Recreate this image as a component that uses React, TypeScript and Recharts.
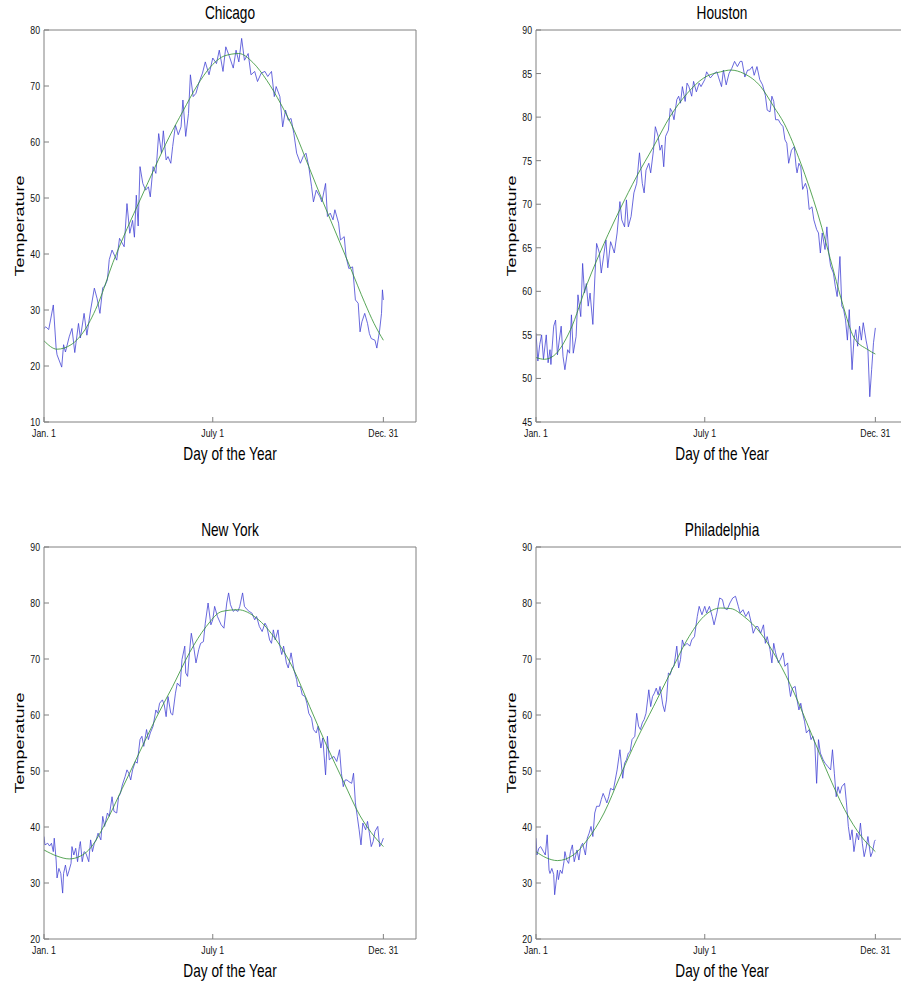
import React from 'react';
import { LineChart, Line, XAxis, YAxis } from 'recharts';

// x axis: day of year
const tickDays = [1, 182, 365];
const tickNames = ['Jan. 1', 'July 1', 'Dec. 31'];
const dayDomain = [1, 400];

// [day, temperature]
const chicagoDaily: [number, number][] = [
  [1, 26.7], [3, 27], [6, 26.5], [8, 28.2], [11, 30.9], [14, 23.2], [15, 22], [20, 19.8], [22, 23.8], [24, 22.5],
  [28, 25.2], [31, 26.7], [34, 22.4], [38, 27.6], [40, 25], [44, 29.4], [47, 25.5], [51, 30], [55, 33.9], [58, 32],
  [61, 29.4], [64, 34], [66, 34.2], [69, 35.4], [71, 39], [74, 40.7], [79, 38.9], [82, 42.8], [87, 41.3], [90, 49],
  [93, 43.7], [96, 46], [98, 43], [100, 50.5], [102, 45], [104, 55.6], [107, 52.6], [110, 51.4], [113, 52], [115, 50.2],
  [118, 55.6], [121, 54.4], [124, 61.5], [127, 58], [129, 62], [132, 56.8], [134, 57.4], [137, 56.2], [139, 59.2], [142, 63],
  [145, 61.3], [148, 62.7], [150, 67.5], [153, 61], [156, 65.1], [158, 72], [161, 68.1], [164, 68.7], [167, 70.5], [171, 72.3],
  [174, 74.3], [178, 72], [182, 75], [186, 74], [189, 76.4], [193, 72.6], [196, 77], [200, 75.2], [204, 73.2], [207, 76.4],
  [210, 74.3], [213, 78.5], [216, 74.6], [220, 75.8], [223, 72], [227, 72.6], [230, 70.8], [234, 72.3], [238, 72.6], [241, 71.7],
  [245, 72.6], [248, 68.1], [250, 69.9], [254, 68.1], [257, 62.7], [260, 65.7], [263, 63.9], [266, 64.2], [269, 61.5], [272, 58],
  [276, 56.2], [279, 57.4], [282, 58], [285, 55.6], [288, 52], [290, 49.3], [293, 51.4], [297, 50.2], [299, 49.3], [303, 52.6],
  [305, 46.7], [308, 47.3], [311, 46.1], [313, 47.9], [317, 45.5], [319, 42.5], [323, 43.1], [325, 39.5], [328, 37.4], [332, 37.7],
  [335, 31.8], [338, 31.2], [340, 26.1], [342, 27.9], [345, 29.4], [348, 27.6], [350, 25.8], [352, 24.9], [356, 24.6], [358, 23.2],
  [361, 26.4], [363, 29.4], [364, 33.6], [365, 31.8],
];
const chicagoFit: [number, number][] = [
  [1, 24.5], [15, 23], [30, 23.8], [45, 26.5], [60, 31.5], [75, 38.5], [90, 44.5], [105, 50], [120, 55.5], [135, 60.8],
  [150, 65.5], [165, 70], [180, 73.5], [195, 75.4], [210, 75.8], [225, 74.2], [240, 71], [255, 66.8], [270, 61.8], [285, 55.6],
  [300, 49.4], [315, 43.4], [330, 37.4], [345, 31.3], [355, 27.6], [365, 24.6],
];

const houstonDaily: [number, number][] = [
  [1, 55.2], [3, 52], [5, 53.9], [7, 55], [9, 52.2], [12, 55], [14, 51.8], [16, 53.3], [17, 51.6], [20, 56],
  [22, 56.7], [24, 52.7], [26, 54.4], [28, 56], [30, 52.5], [32, 51], [35, 53.3], [37, 52.9], [39, 57.3], [41, 52.9],
  [44, 54.8], [46, 59.6], [49, 57.1], [51, 63.2], [53, 59.8], [55, 60.9], [57, 58.3], [59, 59.8], [62, 56.2], [64, 61.3],
  [66, 65.5], [69, 64.4], [71, 62.1], [74, 64.4], [76, 65.9], [78, 62.7], [81, 65.7], [83, 65.1], [85, 64.4], [88, 66.7],
  [91, 70.3], [93, 68.2], [96, 67.4], [98, 70.5], [100, 67.4], [103, 68.6], [106, 71.3], [109, 72.4], [112, 75.9], [115, 72.4],
  [117, 71.3], [119, 73.9], [122, 74.7], [124, 73.6], [127, 76.2], [129, 78.9], [132, 77.8], [134, 76.2], [136, 76.8], [138, 74.3],
  [140, 77.8], [143, 78.5], [145, 81], [147, 80.6], [149, 79.7], [152, 82], [154, 82.4], [156, 81.6], [158, 83.5], [161, 81.8],
  [163, 83.9], [165, 83.5], [168, 82.4], [170, 84.1], [173, 82.9], [176, 83.9], [178, 83.5], [182, 84.3], [184, 85.2], [188, 84.5],
  [192, 85], [195, 85.2], [197, 84.5], [200, 83.5], [202, 85.4], [205, 83.7], [208, 85], [211, 85.6], [214, 86.4], [217, 85.8],
  [220, 86.4], [222, 86.4], [225, 84.6], [228, 85.4], [230, 85.4], [233, 85.8], [235, 84.8], [238, 85.8], [241, 84.3], [244, 83.7],
  [247, 82.5], [249, 80.8], [252, 80.6], [254, 82.4], [256, 81.8], [258, 79.7], [261, 79.7], [263, 79.3], [266, 78.9], [268, 77.4],
  [270, 77], [272, 74.7], [275, 76.2], [278, 76.6], [280, 74.3], [281, 73.6], [283, 74.7], [285, 74.3], [287, 71.7], [290, 72.4],
  [292, 71.7], [294, 69.4], [297, 69.7], [299, 68.2], [302, 67.1], [304, 66.7], [306, 64.4], [308, 66.7], [311, 64.8], [313, 67.4],
  [315, 64.4], [317, 62.9], [320, 62.1], [322, 60.6], [324, 59.4], [327, 64], [329, 58.3], [331, 57.9], [333, 56.7], [335, 54.4],
  [337, 57.9], [340, 51], [342, 54.4], [344, 55.6], [346, 53.7], [348, 56], [350, 54.4], [352, 56.4], [355, 54.4], [357, 53.3],
  [359, 47.9], [361, 51], [363, 54.1], [365, 55.8],
];
const houstonFit: [number, number][] = [
  [1, 52.4], [10, 52.2], [20, 52.6], [38, 55.6], [56, 60.9], [74, 65.5], [91, 69.4], [109, 73.2], [127, 76.6], [145, 80.1],
  [163, 82.7], [181, 84.5], [199, 85.2], [210, 85.4], [224, 85], [242, 83.5], [256, 81.2], [267, 79.3], [285, 74.7], [303, 69],
  [321, 62], [330, 58.5], [342, 54.7], [357, 53.3], [365, 52.8],
];

const newYorkDaily: [number, number][] = [
  [1, 38.3], [2, 36.8], [5, 37.1], [7, 36.6], [9, 37.1], [11, 35.6], [12, 38], [14, 34.1], [15, 30.9], [17, 32.6],
  [19, 31.7], [21, 28.2], [22, 31.7], [24, 33.2], [26, 31.2], [28, 32.3], [30, 33.5], [31, 36.5], [33, 35], [35, 36.2],
  [37, 33.8], [39, 36.5], [40, 37.4], [42, 33.8], [44, 35.6], [46, 35.3], [49, 33.8], [51, 37.7], [53, 35.6], [55, 37.1],
  [57, 37.7], [59, 38.9], [62, 37.7], [64, 41.9], [66, 40.1], [69, 42.5], [71, 41.9], [74, 45.4], [76, 42.8], [79, 42.5],
  [81, 45.4], [83, 46], [85, 47.5], [88, 49], [90, 50.2], [92, 49.6], [94, 48.4], [96, 50.2], [99, 51.7], [101, 51.4],
  [104, 55.6], [106, 56.2], [108, 54.4], [111, 57.4], [113, 55.6], [115, 56.8], [118, 58], [121, 60.9], [123, 60.3], [125, 62.1],
  [128, 62.7], [130, 61.8], [132, 59.7], [134, 63.3], [137, 60.3], [139, 60], [142, 63.9], [144, 65.7], [147, 65.1], [149, 69.9],
  [152, 72.3], [153, 67.5], [155, 66.9], [157, 71.1], [159, 74.6], [162, 71.7], [164, 69.3], [167, 71.7], [169, 72.8], [172, 73.1],
  [174, 76.4], [177, 80], [180, 76.1], [182, 77], [184, 79.4], [187, 77.6], [191, 76.1], [194, 75.5], [197, 80], [199, 81.8],
  [201, 79.7], [204, 78.5], [206, 78.8], [209, 78.5], [211, 79.4], [214, 81.8], [216, 79.4], [219, 78.8], [221, 78.5], [224, 78.2],
  [227, 77], [229, 77.6], [232, 75.8], [235, 74.9], [238, 76.4], [240, 75.8], [243, 73.4], [245, 72.8], [247, 75.2], [249, 73.4],
  [252, 75.2], [254, 72.3], [256, 70.8], [258, 72.3], [261, 69.3], [263, 68.4], [266, 71.1], [269, 68.1], [272, 66.3], [273, 65.1],
  [276, 65.1], [278, 63.6], [281, 63.3], [283, 62.1], [285, 60.3], [288, 59.4], [290, 57.4], [293, 56.8], [295, 58], [298, 54.1],
  [300, 55.9], [303, 49.3], [305, 56.2], [307, 52], [309, 52.3], [312, 52.6], [315, 51.7], [318, 53.8], [320, 49.6], [322, 47.2],
  [324, 48.4], [326, 48.4], [328, 48.1], [331, 47.8], [333, 49.6], [335, 44.3], [337, 41.9], [339, 39.5], [341, 36.8], [343, 40.7],
  [346, 39.5], [348, 41], [350, 38.9], [352, 36.5], [354, 37.4], [356, 39.2], [359, 40.1], [361, 36.5], [363, 37.1], [365, 38],
];
const newYorkFit: [number, number][] = [
  [1, 35.9], [15, 34.8], [28, 34.3], [40, 34.8], [49, 35.9], [67, 40.7], [85, 46.9], [103, 53.2], [121, 59.4], [139, 65.1],
  [157, 71.1], [175, 75.8], [192, 78.5], [209, 78.8], [229, 77.3], [250, 73.4], [268, 68.4], [286, 61.5], [304, 54.6], [322, 48.2],
  [340, 42], [352, 39], [365, 36.5],
];

const phillyDaily: [number, number][] = [
  [1, 38], [2, 35], [4, 36.2], [6, 36.5], [9, 35.6], [11, 35], [13, 38.6], [15, 32.3], [16, 31.7], [18, 32.6],
  [20, 31.5], [21, 27.9], [24, 32.3], [25, 30.6], [27, 32.3], [29, 31.7], [31, 33.8], [32, 35.6], [34, 34.1], [36, 33.5],
  [38, 35.6], [40, 36.8], [42, 33.8], [45, 35.9], [47, 34.1], [49, 36.5], [51, 37.1], [54, 35], [56, 38], [58, 38.9],
  [60, 40.1], [62, 38.3], [64, 42.5], [66, 43.7], [69, 43.7], [71, 44.9], [73, 46], [75, 45.2], [77, 44.3], [79, 45.4],
  [81, 46.9], [84, 46.6], [86, 48.4], [88, 50.2], [90, 52.6], [91, 53.8], [94, 48.7], [96, 51.4], [98, 52], [100, 53.2],
  [102, 53.5], [104, 55.6], [107, 56.2], [109, 60.3], [111, 58], [113, 57.4], [115, 58.6], [117, 59.2], [119, 60.3], [122, 64.5],
  [124, 61.5], [126, 63.3], [128, 63.9], [130, 64.8], [132, 63.6], [134, 65.1], [137, 61.8], [139, 60.6], [141, 62.7], [143, 67.5],
  [145, 67.2], [147, 68.4], [149, 68.7], [152, 72.3], [154, 68.4], [156, 69.9], [158, 73.4], [160, 72.3], [163, 72.8], [166, 72.3],
  [168, 73.4], [171, 74], [174, 77.6], [176, 79.4], [179, 77.9], [182, 79.4], [184, 78.2], [187, 79.4], [190, 77.6], [192, 76.1],
  [195, 78.2], [198, 80.9], [201, 80.6], [203, 79.1], [206, 78.8], [209, 80], [212, 80.9], [215, 81.2], [218, 79.4], [220, 78.2],
  [223, 78.8], [226, 77.6], [229, 78.5], [232, 76.4], [234, 74.6], [237, 75.8], [239, 75.8], [242, 74.6], [245, 76.1], [247, 72.8],
  [249, 74], [252, 71.7], [254, 69.3], [256, 72.8], [258, 71.1], [261, 69.3], [263, 69.9], [266, 71.1], [268, 68.7], [271, 69.3],
  [272, 65.7], [274, 63.3], [276, 64.8], [279, 65.1], [281, 62.7], [283, 60.9], [285, 62.1], [287, 60.3], [289, 58.9], [291, 56.8],
  [294, 57.4], [296, 55.6], [298, 56.2], [300, 55], [302, 47.8], [304, 55.6], [306, 53.2], [309, 52], [311, 51.4], [314, 50.8],
  [317, 50.2], [319, 53.8], [321, 49.6], [323, 45.4], [325, 47.2], [327, 46], [329, 47.2], [332, 47.8], [334, 44.3], [336, 40.1],
  [338, 37.7], [340, 39.5], [342, 35.6], [345, 38.9], [347, 37.7], [349, 40.7], [351, 37.1], [353, 34.7], [355, 36.2], [357, 38.3],
  [360, 34.7], [362, 35.6], [364, 37.4], [365, 37.7],
];
const phillyFit: [number, number][] = [
  [1, 35.6], [12, 34.5], [24, 34], [41, 35], [56, 37.7], [74, 42.5], [91, 49], [109, 55.6], [127, 61.5], [145, 67.5],
  [163, 73.4], [181, 77.6], [199, 79.1], [210, 79], [224, 77.6], [242, 74.6], [260, 69.9], [278, 63.9], [296, 56.8], [314, 49.6],
  [332, 43.1], [350, 38.3], [365, 35.6],
];

const chicagoTicks = [10, 20, 30, 40, 50, 60, 70, 80];
const houstonTicks = [45, 50, 55, 60, 65, 70, 75, 80, 85, 90];
const eastTicks = [20, 30, 40, 50, 60, 70, 80, 90];

const FONT = '"Liberation Sans", Arial, Helvetica, sans-serif';
const SQUEEZE = 0.76; // the figure is narrower than its fonts
const AXIS = '#808080';

const toRows = (pts: [number, number][]) => pts.map(([day, temp]) => ({ day, temp }));

const XTick = (props: any) => {
  const { x, y, payload } = props;
  const label = tickNames[tickDays.indexOf(payload.value)] ?? '';
  return (
    <text x={0} y={0} dy="0.71em" textAnchor="middle" fontSize={11.5} fontFamily={FONT} fill="#111"
      transform={`translate(${x} ${y}) scale(${SQUEEZE} 1)`}>{label}</text>
  );
};

const YTick = (props: any) => {
  const { x, y, payload } = props;
  return (
    <text x={0} y={0} dy="0.35em" textAnchor="end" fontSize={11.5} fontFamily={FONT} fill="#111"
      transform={`translate(${x} ${y}) scale(${SQUEEZE} 1)`}>{payload.value}</text>
  );
};

function CityPanel({ daily, fit, yTicks, left, top }: {
  daily: [number, number][]; fit: [number, number][]; yTicks: number[]; left: number; top: number;
}) {
  const yDomain = [yTicks[0], yTicks[yTicks.length - 1]];
  return (
    <div style={{ position: 'absolute', left, top }}>
      <LineChart width={450} height={480} margin={{ top: 29, right: 33, bottom: 28, left: 0 }}>
        <XAxis xAxisId="b" type="number" dataKey="day" domain={dayDomain} ticks={tickDays} allowDataOverflow
          height={30} tickSize={-5} tickMargin={12} tick={<XTick />} stroke={AXIS} interval={0} />
        <XAxis xAxisId="t" orientation="top" type="number" dataKey="day" domain={dayDomain} ticks={tickDays} allowDataOverflow
          height={1} tickSize={-5} tick={false} stroke={AXIS} interval={0} />
        <YAxis yAxisId="l" type="number" domain={yDomain} ticks={yTicks} allowDataOverflow
          width={44} tickSize={-5} tickMargin={9} tick={<YTick />} stroke={AXIS} interval={0} />
        <YAxis yAxisId="r" orientation="right" type="number" domain={yDomain} ticks={yTicks} allowDataOverflow
          width={1} tickSize={-5} tick={false} stroke={AXIS} interval={0} />
        <Line xAxisId="b" yAxisId="l" data={toRows(daily)} dataKey="temp" type="linear" stroke="#4444d4"
          strokeWidth={0.8} dot={false} isAnimationActive={false} />
        <Line xAxisId="t" yAxisId="r" data={toRows(fit)} dataKey="temp" type="monotone" stroke="#2f8f2f"
          strokeWidth={0.8} dot={false} isAnimationActive={false} />
      </LineChart>
    </div>
  );
}

const panels = [
  { title: 'Chicago', daily: chicagoDaily, fit: chicagoFit, ticks: chicagoTicks, left: 0, top: 0 },
  { title: 'Houston', daily: houstonDaily, fit: houstonFit, ticks: houstonTicks, left: 492, top: 0 },
  { title: 'New York', daily: newYorkDaily, fit: newYorkFit, ticks: eastTicks, left: 0, top: 517 },
  { title: 'Philadelphia', daily: phillyDaily, fit: phillyFit, ticks: eastTicks, left: 492, top: 517 },
];

export default function App() {
  return (
    <div style={{ position: 'absolute', left: 0, top: 0, width: 901, height: 985, overflow: 'hidden', background: '#fff' }}>
      {panels.map((p) => (
        <CityPanel key={p.title} daily={p.daily} fit={p.fit} yTicks={p.ticks} left={p.left} top={p.top} />
      ))}
      <svg width={901} height={985} style={{ position: 'absolute', left: 0, top: 0, pointerEvents: 'none' }}>
        {panels.map((p) => {
          const cx = p.left + 230;
          return (
            <g key={p.title} fontFamily={FONT} fontSize={18} fill="#000">
              <text textAnchor="middle" transform={`translate(${cx} ${p.top + 19}) scale(${SQUEEZE} 1)`}>{p.title}</text>
              <text textAnchor="middle" transform={`translate(${cx} ${p.top + 460}) scale(${SQUEEZE} 1)`}>Day of the Year</text>
              <text textAnchor="middle" dy="0.35em"
                transform={`translate(${p.left + 19} ${p.top + 226}) scale(${SQUEEZE} 1) rotate(-90)`}>Temperature</text>
            </g>
          );
        })}
      </svg>
    </div>
  );
}
